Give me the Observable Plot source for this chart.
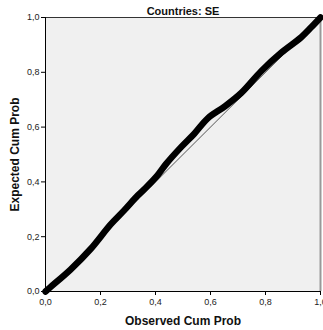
<!DOCTYPE html>
<html>
<head>
<meta charset="utf-8">
<script src="https://cdn.jsdelivr.net/npm/d3@7"></script>
<script src="https://cdn.jsdelivr.net/npm/@observablehq/plot@0.6"></script>
<style>
  html, body { margin: 0; padding: 0; background: #fff; }
  #chart svg { font-family: "Liberation Sans", Arial, sans-serif; }
  #chart g[aria-label="x-axis label"] text,
  #chart g[aria-label="y-axis label"] text { font-weight: bold; font-size: 12px; fill: #111; }
  #chart g[aria-label="x-axis tick label"] text,
  #chart g[aria-label="y-axis tick label"] text { fill: #222; }
</style>
</head>
<body>
<div id="chart"></div>
<script>
// P-P plot for Countries: SE — observed vs expected cumulative probability
const title = "Countries: SE";
const observedCum = [0, 0.018, 0.091, 0.164, 0.237, 0.286, 0.335, 0.371, 0.408, 0.438, 0.493, 0.541, 0.59, 0.651, 0.712, 0.785, 0.858, 0.93, 0.967, 1];
const expectedCum = [0, 0.016, 0.08, 0.155, 0.245, 0.296, 0.35, 0.385, 0.425, 0.465, 0.527, 0.576, 0.632, 0.675, 0.725, 0.805, 0.872, 0.928, 0.965, 1];
const tickValues = [0, 0.2, 0.4, 0.6, 0.8, 1];
const diagonal = [0, 1];

const points = observedCum.map((o, i) => ({observed: o, expected: expectedCum[i]}));
const commaFormat = d => d3.format(".1f")(d).replace(".", ",");

const chart = Plot.plot({
  width: 323,
  height: 330,
  marginLeft: 45,
  marginRight: 3,
  marginTop: 17,
  marginBottom: 39,
  style: {background: "#fff", fontSize: "9px", overflow: "visible"},
  x: {domain: [0, 1]},
  y: {domain: [0, 1]},
  marks: [
    Plot.frame({fill: "#f0f0f0", stroke: "none"}),
    Plot.ruleY([1], {stroke: "#333", strokeWidth: 1}),
    Plot.ruleX([1], {stroke: "#999", strokeWidth: 2}),
    Plot.line(diagonal, {x: d => d, y: d => d, stroke: "#555", strokeWidth: 1}),
    Plot.line(points, {x: "observed", y: "expected", stroke: "#000", strokeWidth: 6.5, strokeLinejoin: "round", strokeLinecap: "round", curve: "catmull-rom"}),
    Plot.ruleX([0], {stroke: "#000", strokeWidth: 1}),
    Plot.ruleY([0], {stroke: "#000", strokeWidth: 1}),
    Plot.axisX({ticks: tickValues, tickFormat: commaFormat, tickSize: 4, tickPadding: 3, label: "Observed Cum Prob", labelAnchor: "center", labelArrow: "none", labelOffset: 33}),
    Plot.axisY({ticks: tickValues, tickFormat: commaFormat, tickSize: 4, tickPadding: 2, label: "Expected Cum Prob", labelAnchor: "center", labelArrow: "none", labelOffset: 35}),
    Plot.text([title], {frameAnchor: "top", dy: -10, fontWeight: "bold", fontSize: 11, fill: "#111"})
  ]
});
document.getElementById("chart").appendChild(chart);
</script>
</body>
</html>
